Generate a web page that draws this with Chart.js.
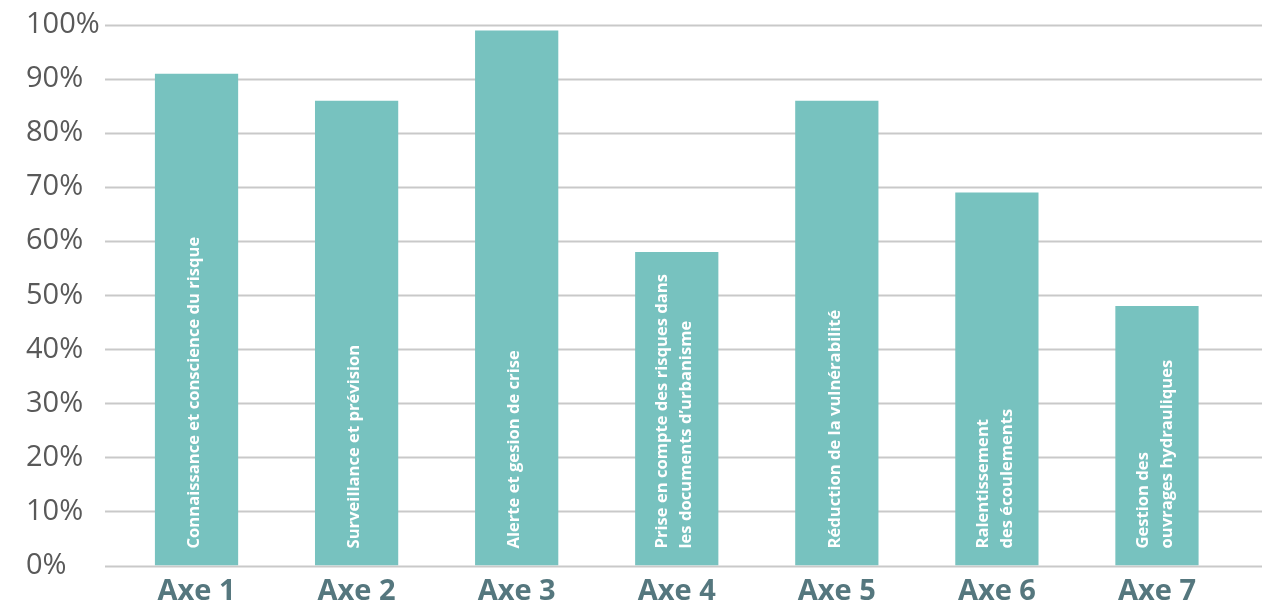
<!DOCTYPE html>
<html>
<head>
<meta charset="utf-8">
<script src="https://cdn.jsdelivr.net/npm/chart.js@4"></script>
<style>
  html, body { margin: 0; padding: 0; background: #fff; }
  #wrap { width: 1262px; height: 603px; }
</style>
</head>
<body>
<div id="wrap"><canvas id="myChart"></canvas></div>
<script>
const axes = ["Axe 1", "Axe 2", "Axe 3", "Axe 4", "Axe 5", "Axe 6", "Axe 7"];
const scores = [91, 86, 99, 58, 86, 69, 48];
const barTexts = [
  ["Connaissance et conscience du risque"],
  ["Surveillance et prévision"],
  ["Alerte et gesion de crise"],
  ["Prise en compte des risques dans", "les documents d\u2019urbanisme"],
  ["Réduction de la vulnérabilité"],
  ["Ralentissement", "des écoulements"],
  ["Gestion des", "ouvrages hydrauliques"]
];
const yTicks = [0, 10, 20, 30, 40, 50, 60, 70, 80, 90, 100];

// grid lines run the whole width, wider than the bar area
const gridPlugin = {
  id: "fullGrid",
  beforeDatasetsDraw(chart) {
    const c = chart.ctx;
    const y = chart.scales.y;
    c.save();
    c.strokeStyle = "#c9c9c9";
    c.lineWidth = 2;
    yTicks.forEach(function (v) {
      const py = Math.round(y.getPixelForValue(v)) + 0.5;
      c.beginPath();
      c.moveTo(105, py);
      c.lineTo(chart.width, py);
      c.stroke();
    });
    c.restore();
  }
};

// white rotated text inside each bar
const barTextPlugin = {
  id: "barText",
  afterDatasetsDraw(chart) {
    const c = chart.ctx;
    const meta = chart.getDatasetMeta(0);
    c.save();
    c.fillStyle = "#ffffff";
    c.font = "bold 16.6px 'Open Sans'";
    c.textAlign = "left";
    c.textBaseline = "middle";
    meta.data.forEach(function (bar, i) {
      const lines = barTexts[i];
      const lh = 24;
      const startX = bar.x - (lines.length - 1) * lh / 2 - 2;
      lines.forEach(function (line, j) {
        c.save();
        c.translate(startX + j * lh, bar.base - 17);
        c.rotate(-Math.PI / 2);
        c.fillText(line, 0, 0);
        c.restore();
      });
    });
    c.restore();
  }
};

const ctx = document.getElementById("myChart");
const myChart = new Chart(ctx, {
  type: "bar",
  data: {
    labels: axes,
    datasets: [
      {
        data: scores,
        backgroundColor: "#77c2bf",
        borderWidth: 0,
        categoryPercentage: 1,
        barPercentage: 0.52,
      },
    ],
  },
  options: {
    responsive: true,
    maintainAspectRatio: false,
    animation: false,
    layout: {
      padding: { left: 26, right: 25, top: 25, bottom: 0 }
    },
    scales: {
      y: {
        min: 0,
        max: 100,
        afterFit: function (scale) { scale.width = 90.5; },
        afterBuildTicks: function (scale) {
          scale.ticks = yTicks.map(function (v) { return { value: v }; });
        },
        grid: { display: false, drawTicks: false },
        border: { display: false },
        ticks: {
          crossAlign: "far",
          color: "#595959",
          font: { family: "'Open Sans'", size: 29 },
          callback: function (v) { return v + "%"; }
        }
      },
      x: {
        afterFit: function (scale) { scale.height = 37.5; },
        grid: { display: false, drawTicks: false },
        border: { display: false },
        ticks: {
          color: "#55777e",
          padding: 9,
          font: { family: "'Open Sans'", size: 29, weight: "bold" }
        }
      }
    },
    plugins: {
      legend: { display: false },
      tooltip: { enabled: false },
      title: { display: false }
    }
  },
  plugins: [gridPlugin, barTextPlugin]
});
</script>
</body>
</html>
